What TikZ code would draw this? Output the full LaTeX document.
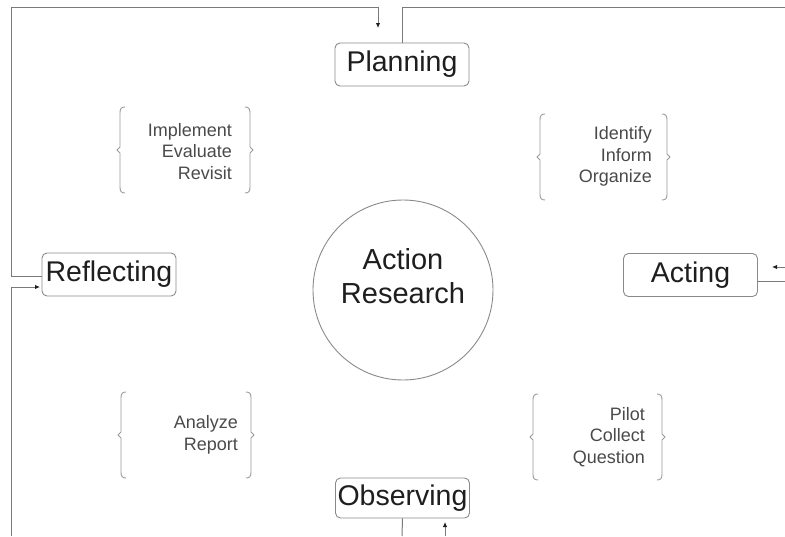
\documentclass[tikz,border=0pt]{standalone}
\usepackage{fontspec}
\setmainfont{Liberation Sans}
\usetikzlibrary{arrows.meta}
\definecolor{linec}{HTML}{7A7A7A}
\definecolor{boxc}{HTML}{8A8A8A}
\definecolor{brkc}{HTML}{9A9A9A}
\definecolor{txtc}{HTML}{1E1E1E}
\definecolor{itemc}{HTML}{4A4A4A}
\tikzset{
  conn/.style={draw=linec, line width=1pt},
  arr/.style={conn, -{Latex[length=5pt,width=4.5pt,color=txtc]}},
  stage/.style={draw=boxc, line width=0.9pt, rounded corners=5pt, minimum width=134pt, minimum height=43pt, inner sep=0pt, text=txtc, font=\fontsize{28.5}{32}\selectfont},
  brk/.style={draw=brkc, line width=0.9pt},
  items/.style={anchor=east, align=right, inner sep=0pt, text=itemc, font=\fontsize{18}{21.5}\selectfont},
  lbrack/.pic={\draw[brk] (5,-43) .. controls (1,-43) and (0,-41) .. (0,-37) -- (0,-3) -- (-3,0) -- (0,3) -- (0,37) .. controls (0,41) and (1,43) .. (5,43);},
  rbrack/.pic={\draw[brk] (-5,-43) .. controls (-1,-43) and (0,-41) .. (0,-37) -- (0,-3) -- (3,0) -- (0,3) -- (0,37) .. controls (0,41) and (-1,43) .. (-5,43);}
}
\begin{document}
\begin{tikzpicture}[x=1pt,y=-1pt]
\useasboundingbox (0,0) rectangle (785,536);
% stages
\node[stage] (plan) at (402,64.5) {Planning};
\node[stage] (act) at (690.5,275) {Acting};
\node[stage] (refl) at (109,274.5) {Reflecting};
\node[stage, minimum height=40pt] (obs) at (402.5,498) {Observing};
\node[circle, draw=boxc, line width=0.9pt, minimum size=180pt, inner sep=0pt] (ar) at (403,290) {};
\node[align=center, inner sep=0pt, text=txtc, font=\fontsize{29}{34}\selectfont] (art) at (403,276) {Action\\Research};
% free ends
\coordinate (tl) at (11,7);
\coordinate (pin) at (378,28);
\coordinate (tr) at (785,7);
\coordinate (rin) at (785,267);
\coordinate (actin) at (772,267);
\coordinate (aout) at (785,281);
\coordinate (obsb) at (402,536);
\coordinate (bin) at (445,536);
\coordinate (bout) at (445,522);
\coordinate (bl) at (11,536);
\coordinate (reflin) at (40,287);
% connectors
\draw[arr] ([yshift=-1.5pt]refl.west) -| (tl) -| (pin);
\draw[conn] (plan.north) |- (tr);
\draw[arr] (rin) -- (actin);
\draw[conn] (act.east |- aout) -- (aout);
\draw[conn] (obs.south) -- (obsb);
\draw[arr] (bin) -- (bout);
\draw[arr] (bl) |- (reflin);
% brackets and items
\pic at (120,150) {lbrack};
\pic at (250,150) {rbrack};
\node[items] (t1) at (232,151.5) {Implement\\Evaluate\\Revisit};
\pic at (540,157) {lbrack};
\pic at (667,157) {rbrack};
\node[items] (t2) at (652,156.5) {Identify\\Inform\\Organize};
\pic at (121,435) {lbrack};
\pic at (251,435) {rbrack};
\node[items] (t3) at (238,435) {Analyze\\Report};
\pic at (533,437) {lbrack};
\pic at (662,437) {rbrack};
\node[items] (t4) at (645,437) {Pilot\\Collect\\Question};
\end{tikzpicture}
\end{document}
